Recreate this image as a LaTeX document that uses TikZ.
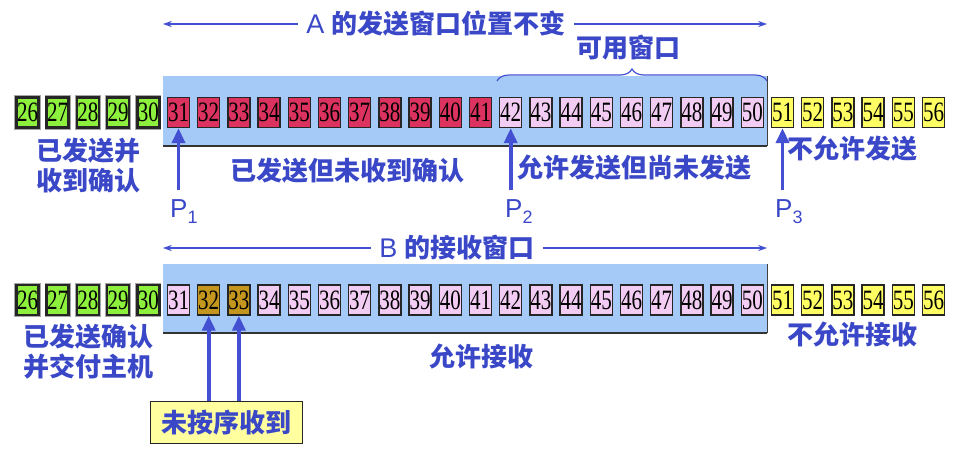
\documentclass[tikz,border=0pt]{standalone}
\usepackage{fontspec}
\setmainfont{Liberation Sans}
\newfontfamily\cjk{Noto Sans CJK SC}
\newfontfamily\lat{Liberation Sans}
\newfontfamily\numf[FakeStretch=0.75]{Liberation Serif}
\usetikzlibrary{arrows.meta,decorations.pathreplacing}
\definecolor{segGreen}{RGB}{140,240,60}
\definecolor{segRed}{RGB}{220,50,95}
\definecolor{segPink}{RGB}{242,204,242}
\definecolor{segYellow}{RGB}{255,255,100}
\definecolor{segGold}{RGB}{196,150,30}
\definecolor{winBlue}{RGB}{166,202,247}
\definecolor{txtBlue}{RGB}{58,72,200}
\definecolor{arrBlue}{RGB}{68,80,210}
\definecolor{noteYellow}{RGB}{255,255,160}
\begin{document}
\begin{tikzpicture}[x=1pt,y=-1pt,
  seg/.style={draw=black!85, line width=1.3pt, minimum width=22pt, minimum height=30pt,
    inner sep=0pt, font=\numf\fontsize{28}{28}\selectfont},
  acked/.style={seg, fill=segGreen, line width=2.6pt, minimum width=22pt,
    preaction={draw=black!35, line width=4.2pt}},
  sent/.style={seg, fill=segRed},
  avail/.style={seg, fill=segPink},
  nope/.style={seg, fill=segYellow},
  gotit/.style={seg, fill=segGold},
  lbl/.style={text=txtBlue, font=\cjk\bfseries\fontsize{26}{30}\selectfont, inner sep=0pt},
  ttl/.style={text=txtBlue, font=\fontsize{26}{30}\selectfont, inner xsep=8pt, inner ysep=0pt},
  plbl/.style={text=txtBlue, font=\lat\fontsize{26}{26}\selectfont, inner sep=0pt, anchor=base west},
  win/.style={fill=winBlue, draw=none, inner sep=0pt, minimum width=604pt, minimum height=70pt},
  winedge/.style={draw=black!80, line width=2.2pt},
  parrow/.style={draw=arrBlue, line width=3.6pt, -{Triangle[length=15pt,width=13pt]}},
  tarrow/.style={draw=arrBlue, line width=1.4pt, -{Stealth[length=9pt,width=6pt]}},
  bracestyle/.style={draw=arrBlue, line width=1.2pt, decorate, decoration={brace, amplitude=12pt}}
]
\useasboundingbox (0,0) rectangle (960,448);

% ---------- sender A ----------
\node[win] (winA) at (465,111) {};
\draw[winedge] (winA.south west) -- (winA.south east);
\draw[draw=black!75, line width=1pt] (winA.south east) -- (winA.north east);

\foreach \i in {26,...,30} \node[acked] (a\i) at ({27.5+(\i-26)*30.2},112.5) {\i};
\foreach \i in {31,...,41} \node[sent] (a\i) at ({27.5+(\i-26)*30.2},112.5) {\i};
\foreach \i in {42,...,50} \node[avail] (a\i) at ({27.5+(\i-26)*30.2},112.5) {\i};
\foreach \i in {51,...,56} \node[nope] (a\i) at ({27.5+(\i-26)*30.2},112.5) {\i};

\node[ttl] (ta) at (436,24) {{\lat\fontsize{27}{30}\selectfont A} {\cjk\bfseries 的发送窗口位置不变}};
\draw[tarrow] (ta.west) -- (ta.west -| winA.west);
\draw[tarrow] (ta.east) -- (ta.east -| winA.east);

\coordinate (brl) at (497,81);
\coordinate (brr) at (767,81);
\draw[bracestyle] (brl) -- (brr);
\node[lbl] (avlab) at (628,48) {可用窗口};

\node[lbl, align=center] (ackA) at (88,166) {已发送并\\收到确认};
\node[lbl] (sentA) at (347,171) {已发送但未收到确认};
\node[lbl] (availA) at (634,168) {允许发送但尚未发送};
\node[lbl] (nopeA) at (852,149) {不允许发送};

\coordinate (p1t) at (0,190);
\draw[parrow] (p1t -| a31.south) -- (a31.south);
\draw[parrow] (p1t -| a42.south) -- (a42.south);
\draw[parrow] (p1t -| a51.south) -- (a51.south);
\node[plbl] (p1) at (170,217) {P\raisebox{-6pt}{\fontsize{18}{18}\selectfont 1}};
\node[plbl] (p2) at (505,217) {P\raisebox{-6pt}{\fontsize{18}{18}\selectfont 2}};
\node[plbl] (p3) at (775,217) {P\raisebox{-6pt}{\fontsize{18}{18}\selectfont 3}};

% ---------- receiver B ----------
\node[win, minimum height=69pt] (winB) at (465,298.5) {};
\draw[winedge] (winB.south west) -- (winB.south east);
\draw[draw=black!75, line width=1pt] (winB.south east) -- (winB.north east);

\foreach \i in {26,...,30} \node[acked] (b\i) at ({27.5+(\i-26)*30.2},300) {\i};
\node[avail] (b31) at ({27.5+5*30.2},300) {31};
\foreach \i in {32,33} \node[gotit] (b\i) at ({27.5+(\i-26)*30.2},300) {\i};
\foreach \i in {34,...,50} \node[avail] (b\i) at ({27.5+(\i-26)*30.2},300) {\i};
\foreach \i in {51,...,56} \node[nope] (b\i) at ({27.5+(\i-26)*30.2},300) {\i};

\node[ttl] (tb) at (457,248) {{\lat\fontsize{27}{30}\selectfont B} {\cjk\bfseries 的接收窗口}};
\draw[tarrow] (tb.west) -- (tb.west -| winB.west);
\draw[tarrow] (tb.east) -- (tb.east -| winB.east);

\node[lbl, align=center] (ackB) at (88,352) {已发送确认\\并交付主机};
\node[lbl] (okB) at (481,357) {允许接收};
\node[lbl] (nopeB) at (852,335) {不允许接收};

\node[draw=black!85, fill=noteYellow, line width=1.5pt, minimum width=152pt, minimum height=42pt,
  inner sep=0pt, text=txtBlue, font=\cjk\bfseries\fontsize{26}{30}\selectfont] (ooo) at (226.5,422.5) {未按序收到};
\draw[parrow] (ooo.north -| b32.south) -- (b32.south);
\draw[parrow] (ooo.north -| b33.south) -- (b33.south);
\end{tikzpicture}
\end{document}
